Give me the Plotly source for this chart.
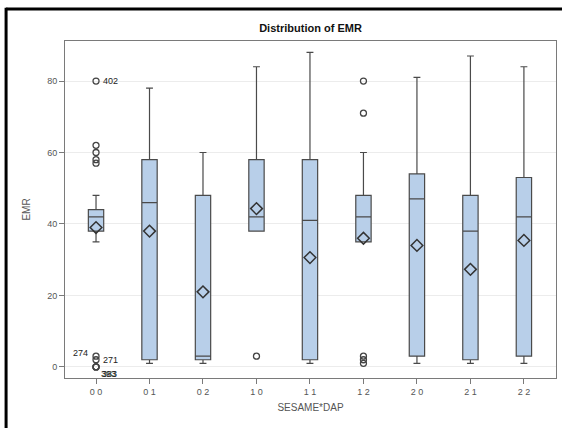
import plotly.graph_objects as go

categories = ["0 0", "0 1", "0 2", "1 0", "1 1", "1 2", "2 0", "2 1", "2 2"]
q1 = [38, 2, 2, 38, 2, 35, 3, 2, 3]
median = [42, 46, 3, 42, 41, 42, 47, 38, 42]
q3 = [44, 58, 48, 58, 58, 48, 54, 48, 53]
lower_whisker = [35, 1, 1, 38, 1, 35, 1, 1, 1]
upper_whisker = [48, 78, 60, 84, 88, 60, 81, 87, 84]
means = [39, 38, 21, 44.3, 30.6, 36, 34, 27.3, 35.4]

outlier_cat = ["0 0"] * 10 + ["1 0"] + ["1 2"] * 5
outlier_val = [80, 62, 60, 58, 57, 3, 2, 0, 0, 0, 3, 80, 71, 3, 2, 1]

label_cat = ["0 0", "0 0", "0 0", "0 0", "0 0"]
label_val = [80, 3, 2, 0, 0]
label_txt = ["402", "274", "271", "393", "383"]
label_side = ["right", "left", "right", "below", "below"]

fig = go.Figure()
fig.add_trace(go.Box(
    x=categories, q1=q1, median=median, q3=q3,
    lowerfence=lower_whisker, upperfence=upper_whisker,
    fillcolor="#B8CFE9", line=dict(color="#4a4a4a", width=1.2),
    whiskerwidth=0.45, boxpoints=False, showlegend=False, hoverinfo="skip"))
fig.add_trace(go.Scatter(
    x=categories, y=means, mode="markers", showlegend=False,
    marker=dict(symbol="diamond-open", size=9, color="#333333", line=dict(width=1.5))))
fig.add_trace(go.Scatter(
    x=outlier_cat, y=outlier_val, mode="markers", showlegend=False,
    marker=dict(symbol="circle-open", size=6, color="#444444", line=dict(width=1.3))))

for c, v, t, s in zip(label_cat, label_val, label_txt, label_side):
    if s == "right":
        xa, xs, ys = "left", 5, 0
    elif s == "left":
        xa, xs, ys = "right", -6, 3
    else:
        xa, xs, ys = "left", 3 if t == "393" else 4, -7
    fig.add_annotation(x=c, y=v, text=t, showarrow=False, xanchor=xa, xshift=xs, yshift=ys,
                       font=dict(family="Liberation Sans, Arial", size=9,
                                 color="#222222"))

# outer frame lines (left and top)
fig.add_shape(type="line", xref="paper", yref="paper", x0=-0.12, x1=1.1, y0=1.095, y1=1.095,
              line=dict(color="black", width=3))
fig.add_shape(type="line", xref="paper", yref="paper", x0=-0.12, x1=-0.12, y0=-0.16, y1=1.099,
              line=dict(color="black", width=3))

fig.update_layout(
    width=562, height=428,
    margin=dict(l=65, r=6, t=41, b=50),
    paper_bgcolor="white", plot_bgcolor="white",
    boxgap=0.59,
    font=dict(family="Liberation Sans, Arial", color="#555555"),
    title=dict(text="<b>Distribution of EMR</b>", x=0.5, xref="paper", xanchor="center",
               y=1 - 28 / 428, yanchor="middle",
               font=dict(size=11, color="#111111")),
)
fig.update_xaxes(
    type="category", categoryorder="array", categoryarray=categories,
    range=[-0.58, 8.6],
    showline=True, linecolor="#7a7a7a", linewidth=1, mirror=True,
    ticks="outside", ticklen=5, tickcolor="#7a7a7a", showgrid=False,
    tickfont=dict(size=9, color="#555555"),
    title=dict(text="SESAME*DAP", font=dict(size=10, color="#555555"), standoff=8))
fig.update_yaxes(
    range=[-3.1, 91.2], tickvals=[0, 20, 40, 60, 80],
    showline=True, linecolor="#7a7a7a", linewidth=1, mirror=True,
    ticks="outside", ticklen=5, tickcolor="#7a7a7a",
    showgrid=True, gridcolor="#ececec", gridwidth=1, zeroline=False,
    tickfont=dict(size=9, color="#555555"),
    title=dict(text="EMR", font=dict(size=10, color="#555555"), standoff=14))

fig.write_html("out.html", config={"displayModeBar": False},
               post_script="document.body.style.margin='0';")
